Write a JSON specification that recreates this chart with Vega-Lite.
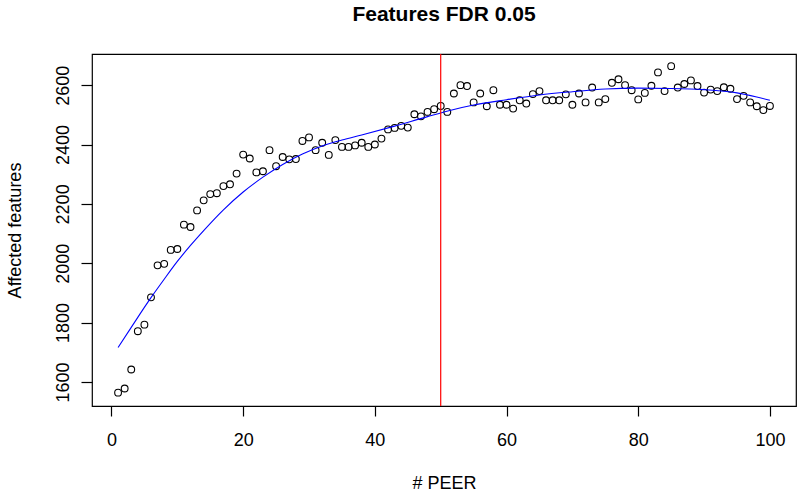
{
  "$schema": "https://vega.github.io/schema/vega-lite/v6.json",
  "autosize": {"type": "none"},
  "width": 704,
  "height": 352,
  "padding": {"left": 92, "top": 54, "right": 4, "bottom": 86},
  "background": "white",
  "config": {
    "font": "Liberation Sans",
    "view": {"stroke": "black", "strokeWidth": 1.2}
  },
  "title": {
    "text": "Features FDR 0.05",
    "font": "Liberation Sans",
    "fontSize": 21,
    "fontWeight": "bold",
    "color": "black",
    "anchor": "middle",
    "frame": "group",
    "baseline": "alphabetic",
    "offset": 11
  },
  "datasets": {
    "pts": [
      {"peer": 1, "features": 1564}, {"peer": 2, "features": 1578}, {"peer": 3, "features": 1642}, {"peer": 4, "features": 1771}, {"peer": 5, "features": 1793},
      {"peer": 6, "features": 1885}, {"peer": 7, "features": 1993}, {"peer": 8, "features": 1998}, {"peer": 9, "features": 2045}, {"peer": 10, "features": 2048},
      {"peer": 11, "features": 2130}, {"peer": 12, "features": 2122}, {"peer": 13, "features": 2178}, {"peer": 14, "features": 2212}, {"peer": 15, "features": 2233},
      {"peer": 16, "features": 2236}, {"peer": 17, "features": 2260}, {"peer": 18, "features": 2266}, {"peer": 19, "features": 2302}, {"peer": 20, "features": 2366},
      {"peer": 21, "features": 2353}, {"peer": 22, "features": 2306}, {"peer": 23, "features": 2310}, {"peer": 24, "features": 2381}, {"peer": 25, "features": 2327},
      {"peer": 26, "features": 2358}, {"peer": 27, "features": 2350}, {"peer": 28, "features": 2351}, {"peer": 29, "features": 2412}, {"peer": 30, "features": 2424},
      {"peer": 31, "features": 2381}, {"peer": 32, "features": 2406}, {"peer": 33, "features": 2365}, {"peer": 34, "features": 2415}, {"peer": 35, "features": 2392},
      {"peer": 36, "features": 2392}, {"peer": 37, "features": 2397}, {"peer": 38, "features": 2406}, {"peer": 39, "features": 2392}, {"peer": 40, "features": 2400},
      {"peer": 41, "features": 2420}, {"peer": 42, "features": 2451}, {"peer": 43, "features": 2456}, {"peer": 44, "features": 2463}, {"peer": 45, "features": 2457},
      {"peer": 46, "features": 2502}, {"peer": 47, "features": 2495}, {"peer": 48, "features": 2510}, {"peer": 49, "features": 2519}, {"peer": 50, "features": 2530},
      {"peer": 51, "features": 2510}, {"peer": 52, "features": 2572}, {"peer": 53, "features": 2600}, {"peer": 54, "features": 2597}, {"peer": 55, "features": 2542},
      {"peer": 56, "features": 2572}, {"peer": 57, "features": 2529}, {"peer": 58, "features": 2583}, {"peer": 59, "features": 2534}, {"peer": 60, "features": 2534},
      {"peer": 61, "features": 2521}, {"peer": 62, "features": 2549}, {"peer": 63, "features": 2538}, {"peer": 64, "features": 2570}, {"peer": 65, "features": 2580},
      {"peer": 66, "features": 2549}, {"peer": 67, "features": 2549}, {"peer": 68, "features": 2549}, {"peer": 69, "features": 2569}, {"peer": 70, "features": 2534},
      {"peer": 71, "features": 2572}, {"peer": 72, "features": 2542}, {"peer": 73, "features": 2592}, {"peer": 74, "features": 2542}, {"peer": 75, "features": 2553},
      {"peer": 76, "features": 2608}, {"peer": 77, "features": 2620}, {"peer": 78, "features": 2600}, {"peer": 79, "features": 2583}, {"peer": 80, "features": 2552},
      {"peer": 81, "features": 2574}, {"peer": 82, "features": 2598}, {"peer": 83, "features": 2643}, {"peer": 84, "features": 2580}, {"peer": 85, "features": 2664},
      {"peer": 86, "features": 2592}, {"peer": 87, "features": 2604}, {"peer": 88, "features": 2616}, {"peer": 89, "features": 2597}, {"peer": 90, "features": 2575},
      {"peer": 91, "features": 2585}, {"peer": 92, "features": 2580}, {"peer": 93, "features": 2593}, {"peer": 94, "features": 2588}, {"peer": 95, "features": 2553},
      {"peer": 96, "features": 2564}, {"peer": 97, "features": 2542}, {"peer": 98, "features": 2529}, {"peer": 99, "features": 2516}, {"peer": 100, "features": 2530}
    ],
    "fit": [
      {"peer": 1, "fitted": 1716}, {"peer": 3, "fitted": 1784}, {"peer": 6, "fitted": 1884}, {"peer": 8, "fitted": 1946},
      {"peer": 10, "fitted": 2006}, {"peer": 12, "fitted": 2060}, {"peer": 14, "fitted": 2110}, {"peer": 17, "fitted": 2180},
      {"peer": 20, "fitted": 2240}, {"peer": 23, "fitted": 2290}, {"peer": 26, "fitted": 2333}, {"peer": 29, "fitted": 2368},
      {"peer": 32, "fitted": 2395}, {"peer": 35, "fitted": 2415}, {"peer": 38, "fitted": 2432}, {"peer": 43, "fitted": 2462},
      {"peer": 48, "fitted": 2494}, {"peer": 52, "fitted": 2518}, {"peer": 55, "fitted": 2533}, {"peer": 60, "fitted": 2551},
      {"peer": 65, "fitted": 2567}, {"peer": 70, "fitted": 2578}, {"peer": 75, "fitted": 2587}, {"peer": 80, "fitted": 2590},
      {"peer": 85, "fitted": 2589}, {"peer": 90, "fitted": 2585}, {"peer": 95, "fitted": 2574}, {"peer": 98, "fitted": 2560},
      {"peer": 100, "fitted": 2549}
    ],
    "cut": [{"peer": 50}]
  },
  "layer": [
    {
      "data": {"name": "pts"},
      "mark": {"type": "point", "shape": "circle", "filled": false, "stroke": "black", "strokeWidth": 1.1, "size": 46, "opacity": 1},
      "encoding": {
        "x": {
          "field": "peer", "type": "quantitative",
          "scale": {"domain": [-2.96, 103.96], "nice": false, "zero": false},
          "axis": {
            "values": [0, 20, 40, 60, 80, 100],
            "format": "d",
            "title": "# PEER",
            "domain": false, "grid": false,
            "tickColor": "black", "tickSize": 10, "tickWidth": 1.2,
            "labelFont": "Liberation Sans", "labelFontSize": 18, "labelColor": "black", "labelPadding": 15,
            "labelFlush": false, "labelOverlap": false,
            "titleFont": "Liberation Sans", "titleFontSize": 18, "titleFontWeight": "normal", "titleColor": "black",
            "titleX": 352, "titleY": 77, "titleBaseline": "middle", "titleAlign": "center"
          }
        },
        "y": {
          "field": "features", "type": "quantitative",
          "scale": {"domain": [1519, 2705], "nice": false, "zero": false},
          "axis": {
            "values": [1600, 1800, 2000, 2200, 2400, 2600],
            "format": "d",
            "title": "Affected features",
            "domain": false, "grid": false,
            "tickColor": "black", "tickSize": 11, "tickWidth": 1.2,
            "labelFont": "Liberation Sans", "labelFontSize": 18, "labelColor": "black",
            "labelAngle": -90, "labelAlign": "center", "labelBaseline": "bottom", "labelPadding": 9,
            "labelFlush": false, "labelOverlap": false,
            "titleFont": "Liberation Sans", "titleFontSize": 18, "titleFontWeight": "normal", "titleColor": "black",
            "titleAngle": -90, "titleX": -77, "titleY": 176, "titleBaseline": "middle", "titleAlign": "center"
          }
        }
      }
    },
    {
      "data": {"name": "fit"},
      "mark": {"type": "line", "color": "#0000FF", "strokeWidth": 1.1, "interpolate": "monotone"},
      "encoding": {
        "x": {"field": "peer", "type": "quantitative"},
        "y": {"field": "fitted", "type": "quantitative"}
      }
    },
    {
      "data": {"name": "cut"},
      "mark": {"type": "rule", "color": "#FF0000", "strokeWidth": 1.2},
      "encoding": {
        "x": {"field": "peer", "type": "quantitative"}
      }
    }
  ]
}
